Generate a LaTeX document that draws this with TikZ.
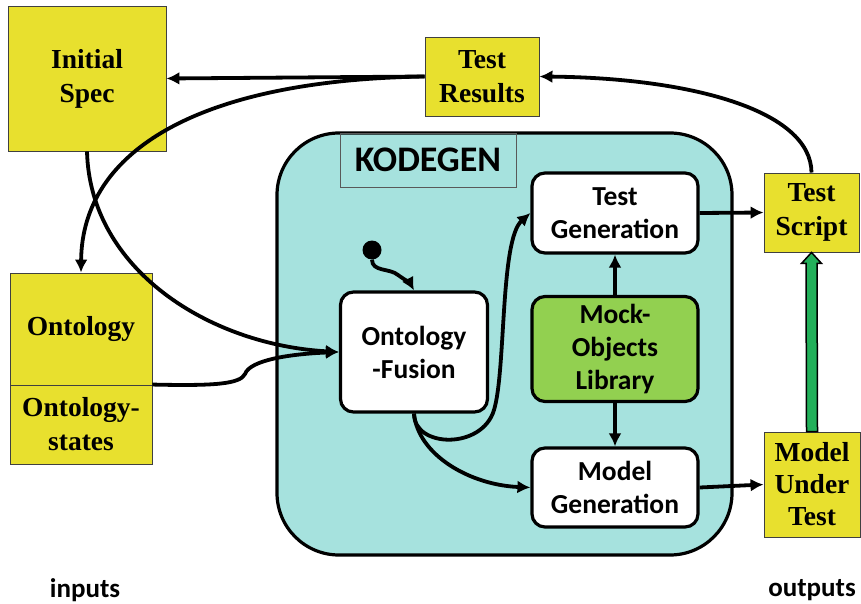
\documentclass[tikz,border=0pt]{standalone}
\usepackage{fontspec}
\setmainfont{Liberation Serif}
\newfontfamily\calibri{Carlito}
\usetikzlibrary{arrows.meta}
\definecolor{specyellow}{RGB}{232,224,46}
\definecolor{kodeteal}{RGB}{166,226,222}
\definecolor{mockgreen}{RGB}{146,208,80}
\definecolor{fatgreen}{RGB}{34,176,90}
\begin{document}
\begin{tikzpicture}[x=1pt, y=-1pt,
		inout/.style={draw=black!75, line width=0.9pt, fill=specyellow, align=center, inner sep=0pt, font=\fontsize{27.5}{34}\selectfont\bfseries},
		part/.style={draw, line width=3.2pt, rounded corners=13pt, fill=white, align=center, inner sep=0pt, minimum width=166pt, font=\calibri\fontsize{27.5}{33}\selectfont\bfseries},
		flow/.style={line width=3.8pt, -{Latex[length=13pt, width=13pt]}}]
				\useasboundingbox (0,0) rectangle (861,604);
				
				% the tool
				\draw [line width=3.2pt, fill=kodeteal, rounded corners=62pt] (277,133) rectangle (732,555);
				\node [draw=black!65, line width=0.8pt, minimum width=176pt, minimum height=54pt, font=\calibri\fontsize{36}{36}\selectfont\bfseries] (title) at (428,160) {KODEGEN};
				
				\node [part, minimum height=80pt] (testgen) at (615,213) {Test\\Generation};
				\node [part, minimum height=105pt, fill=mockgreen] (mock) at (615,349) {Mock-\\Objects\\Library};
				\node [part, minimum height=79pt] (modelgen) at (615,487.5) {Model\\Generation};
				\node [part, minimum width=147pt, minimum height=120pt] (fusion) at (414,352) {Ontology\\-Fusion};
				\node [circle, fill, inner sep=0pt, minimum size=19pt] (start) at (372,250) {};
				
				% inputs and outputs
				\node [inout, minimum width=158pt, minimum height=145pt] (spec) at (87,78.5) {Initial\\Spec};
				\node [inout, minimum width=114pt, minimum height=79pt] (results) at (482,76.5) {Test\\Results};
				\node [inout, minimum width=142pt, minimum height=112pt] (onto) at (81,329) {Ontology};
				\node [inout, minimum width=142pt, minimum height=79pt] (ostates) at (81,424.5) {Ontology-\\states};
				\node [inout, minimum width=95pt, minimum height=79pt] (script) at (811.5,212.5) {Test\\Script};
				\node [inout, minimum width=96pt, minimum height=105pt, font=\fontsize{27.5}{32}\selectfont\bfseries] (mut) at (812,484.5) {Model\\Under\\Test};
				
				\node [font=\calibri\fontsize{27}{30}\selectfont\bfseries] (inputs) at (85,590) {inputs};
				\node [font=\calibri\fontsize{27}{30}\selectfont\bfseries] (outputs) at (812,590) {outputs};
				
				% connectors
				\draw [flow] (results.west) -- (spec.east);
				\draw [flow] (results.west) .. controls (200,80) and (82,150) .. (onto.north);
				\draw [flow] (spec.south) .. controls (90,270) and (210,345) .. (fusion.west);
				\draw [flow] (ostates.north east) .. controls (215,386) and (240,384) .. (245,374) .. controls (250,360) and (290,354) .. (fusion.west);
				\draw [flow] (start.south) .. controls (372,272) and (390,268) .. (398,275) .. controls (405,280) and (410,283) .. (fusion.north);
				\draw [flow] (fusion.south) .. controls (414,448) and (482,450) .. (494,410) .. controls (506,370) and (500,240) .. (testgen.west);
				\draw [flow] (fusion.south) .. controls (418,455) and (470,485) .. (modelgen.west);
				\draw [flow] (mock.north) -- (testgen.south);
				\draw [flow] (mock.south) -- (modelgen.north);
				\draw [flow] (testgen.east) -- (script.west);
				\draw [flow] (modelgen.east) -- (mut.west);
				\draw [flow] (script.north) .. controls (811,110) and (690,78) .. (results.east);
				
				\draw [line width=1.5pt, fill=fatgreen] ([xshift=-5.5pt]mut.north) -- ([xshift=-5.5pt, yshift=-11pt]script.south) -- ++(-4.5,0) -- (script.south) -- ++(10,11) -- ++(-4.5,0) -- ([xshift=5.5pt]mut.north) -- cycle;
			\end{tikzpicture}
\end{document}
